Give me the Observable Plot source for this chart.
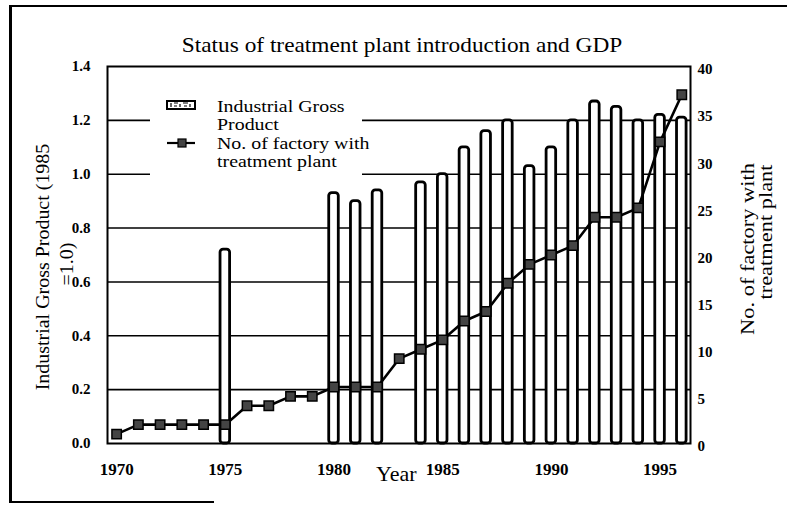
<!DOCTYPE html>
<html>
<head>
<meta charset="utf-8">
<script src="https://cdn.jsdelivr.net/npm/d3@7"></script>
<script src="https://cdn.jsdelivr.net/npm/@observablehq/plot@0.6"></script>
<style>
  html, body { margin: 0; padding: 0; background: #fff; }
  #wrap { position: relative; width: 787px; height: 506px; overflow: hidden; font-family: "Liberation Serif", "DejaVu Serif", serif; color: #000; }
  #wrap svg { position: absolute; left: 0; top: 0; }
  .abs { position: absolute; white-space: nowrap; }
</style>
</head>
<body>
<div id="wrap"></div>
<script>
// ---- data ----
const lineYears = [1970,1971,1972,1973,1974,1975,1976,1977,1978,1979,1980,1981,1982,1983,1984,1985,1986,1987,1988,1989,1990,1991,1992,1993,1994,1995,1996];
const factories = [1,2,2,2,2,2,4,4,5,5,6,6,6,9,10,11,13,14,17,19,20,21,24,24,25,32,37];
const barYears = [1975,1980,1981,1982,1984,1985,1986,1987,1988,1989,1990,1991,1992,1993,1994,1995,1996];
const grossProduct = [0.72,0.93,0.90,0.94,0.97,1.00,1.10,1.16,1.20,1.03,1.10,1.20,1.27,1.25,1.20,1.22,1.21];
const leftTicks = [0,0.2,0.4,0.6,0.8,1.0,1.2,1.4];
const rightTicks = [0,5,10,15,20,25,30,35,40];
const xTicks = [1970,1975,1980,1985,1990,1995];
const titleText = "Status of treatment plant introduction and GDP";
const leftLabel = ["Industrial Gross Product (1985", "=1.0)"];
const rightLabel = ["No. of factory with", "treatment plant"];
const xLabel = "Year";
const legendLabels = [["Industrial Gross", "Product"], ["No. of factory with", "treatment plant"]];

// ---- tables ----
const leftMax = 1.4, rightMax = 40;
const k = leftMax / rightMax; // maps right-axis values onto the left scale
const bars = barYears.map((year, i) => ({year, v: grossProduct[i]}));
const pts = lineYears.map((year, i) => ({year, n: factories[i]}));
const halfW = 0.22;

const chart = Plot.plot({
  width: 787, height: 506,
  marginLeft: 107, marginRight: 97, marginTop: 66, marginBottom: 63,
  x: {domain: [1969.58, 1996.4]},
  y: {domain: [0, leftMax]},
  style: {fontFamily: "Liberation Serif", background: "transparent", color: "#000"},
  marks: [
    Plot.gridY(leftTicks.slice(1, -1), {stroke: "#000", strokeOpacity: 1, strokeWidth: 1.6}),
    Plot.rect(bars, {x1: d => d.year - halfW, x2: d => d.year + halfW, y1: d => 0, y2: "v",
      fill: "#fff", stroke: "#000", strokeWidth: 2.8, rx: 3}),
    Plot.line(pts, {x: "year", y: d => d.n * k, stroke: "#000", strokeWidth: 2.6}),
    Plot.dot(pts, {x: "year", y: d => d.n * k, symbol: "square", r: 5.3, fill: "#444", stroke: "#000", strokeWidth: 1.5}),
    Plot.frame({stroke: "#000", strokeWidth: 2}),
    Plot.axisY(leftTicks, {anchor: "left", tickSize: 0, tickPadding: 17, tickFormat: d => d.toFixed(1),
      fontSize: 15, fontWeight: "bold", label: null}),
    Plot.axisY(rightTicks.map(v => v * k), {anchor: "right", tickSize: 0, tickPadding: 7, dy: 3,
      tickFormat: d => String(Math.round(d / k)), fontSize: 15, fontWeight: "bold", label: null, textAnchor: "start"}),
    Plot.axisX(xTicks, {anchor: "bottom", tickSize: 0, tickPadding: 19, tickFormat: d => String(d),
      fontSize: 17, fontWeight: "bold", label: null})
  ]
});

const wrap = document.getElementById("wrap");
wrap.appendChild(chart);

function addDiv(html, style, parent) {
  const d = document.createElement("div");
  d.className = "abs";
  d.innerHTML = html;
  Object.assign(d.style, style);
  (parent || wrap).appendChild(d);
  return d;
}
function rotLabel(text, cx, cy, size, stretch) {
  return addDiv(text, {left: cx + "px", top: cy + "px", fontSize: size + "px", lineHeight: "1",
    transform: `translate(-50%, -50%) rotate(-90deg) scaleX(${stretch})`});
}

// outer scan frame
addDiv("", {left: "9px", top: "6px", width: "3px", height: "496px", background: "#000"});
addDiv("", {left: "9px", top: "5px", width: "778px", height: "2px", background: "#000"});
addDiv("", {left: "9px", top: "501px", width: "205px", height: "2px", background: "#000"});

// title
addDiv(titleText, {left: "402px", top: "45px", transform: "translate(-50%, -50%) scaleX(1.06)", fontSize: "22px", lineHeight: "1"});

// axis titles
rotLabel(leftLabel[0], 42, 267, 19, 1.05);
rotLabel(leftLabel[1], 66, 264, 19, 1.05);
rotLabel(rightLabel[0], 747, 249, 19, 1.18);
rotLabel(rightLabel[1], 765, 232, 19, 1.18);
addDiv(xLabel, {left: "376px", top: "463px", fontSize: "22px", lineHeight: "22px"});

// legend
const leg = addDiv("", {left: "150px", top: "82px", width: "212px", height: "101px", background: "#fff", overflow: "visible"});
leg.innerHTML = `
<svg width="60" height="101" style="position:absolute;left:0;top:0">
  <rect x="17" y="19" width="28" height="8" fill="#fff" stroke="#000" stroke-width="2"/>
  <path d="M21 21v4M24 21h4M30 22v3M33 21h5M40 22v3M24 24h3M34 24h3" stroke="#000" stroke-width="1.2"/>
  <line x1="17" y1="61" x2="45" y2="61" stroke="#000" stroke-width="2.2"/>
  <rect x="28" y="57" width="8" height="8" fill="#444" stroke="#000" stroke-width="1.2"/>
</svg>`;
const legTops = [[16, 34], [53, 71]];
legendLabels.forEach((lines, i) => lines.forEach((t, j) => {
  addDiv(t, {left: "67px", top: legTops[i][j] + "px", fontSize: "17px", lineHeight: "17px",
    transform: "scaleX(1.17)", transformOrigin: "0 50%"}, leg);
}));
</script>
</body>
</html>
